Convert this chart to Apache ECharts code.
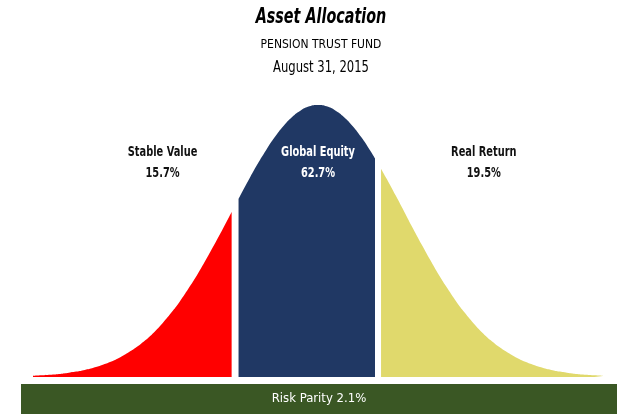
<!DOCTYPE html>
<html>
<head>
<meta charset="utf-8">
<script src="https://cdn.jsdelivr.net/npm/echarts@6/dist/echarts.min.js"></script>
<style>
  html, body { margin: 0; padding: 0; background: #fff; }
  #chart { width: 617px; height: 414px; }
</style>
</head>
<body>
<div id="chart"></div>
<script>
// curve: x in standard deviations, height as % of the peak
var stableX = [-3.3, -3.2, -3.1, -3.0, -2.9, -2.8, -2.7, -2.6, -2.5, -2.4, -2.3, -2.2, -2.1, -2.0, -1.9, -1.8, -1.7, -1.6, -1.5, -1.4, -1.3, -1.2, -1.1, -1.0];
var stableY = [0.4, 0.6, 0.8, 1.1, 1.5, 2.0, 2.6, 3.4, 4.4, 5.6, 7.1, 8.9, 11.0, 13.5, 16.4, 19.8, 23.6, 27.8, 32.5, 37.5, 43.0, 48.7, 54.6, 60.7];
var equityX = [-0.92, -0.8, -0.7, -0.6, -0.5, -0.4, -0.3, -0.2, -0.1, 0, 0.1, 0.2, 0.3, 0.4, 0.5, 0.6, 0.66];
var equityY = [65.5, 72.6, 78.3, 83.5, 88.2, 92.3, 95.6, 98.0, 99.5, 100, 99.5, 98.0, 95.6, 92.3, 88.2, 83.5, 80.4];
var realX = [0.73, 0.8, 0.9, 1.0, 1.1, 1.2, 1.3, 1.4, 1.5, 1.6, 1.7, 1.8, 1.9, 2.0, 2.1, 2.2, 2.3, 2.4, 2.5, 2.6, 2.7, 2.8, 2.9, 3.0, 3.1, 3.2, 3.3];
var realY = [76.6, 72.6, 66.7, 60.7, 54.6, 48.7, 43.0, 37.5, 32.5, 27.8, 23.6, 19.8, 16.4, 13.5, 11.0, 8.9, 7.1, 5.6, 4.4, 3.4, 2.6, 2.0, 1.5, 1.1, 0.8, 0.6, 0.4];

var categories = ['Stable Value', 'Global Equity', 'Real Return'];
var weights = [15.7, 62.7, 19.5];
var labelX = [-1.8, 0.0, 1.92];
var riskParity = 2.1;

var colors = ['#ff0000', '#203864', '#e0d96c'];
var labelColors = ['#111', '#fff', '#111'];
var fontFam = '"DejaVu Sans Condensed", "DejaVu Sans", sans-serif';

function pairs(xs, ys){
    var out = [];
    for (var i = 0; i < xs.length; i++) { out.push([xs[i], ys[i]]); }
    return out;
}

// narrow text (the original uses a condensed face)
function narrowText(x, y, text, font, color, sx){
    return {
        type : 'text',
        x : x,
        y : y,
        z : 100,
        scaleX : sx,
        silent : true,
        style : {
            text : text,
            font : font,
            fill : color,
            textAlign : 'center',
            textVerticalAlign : 'middle'
        }
    };
}

var chartObj = {
    myChart : echarts.init(document.getElementById('chart')),
    option : null,
    init : function(){
        var that = this;
        that.drawChart();
        that.drawLabels();
    },
    drawChart : function(){
        var that = this;
        var curves = [pairs(stableX, stableY), pairs(equityX, equityY), pairs(realX, realY)];
        var series = [];
        categories.forEach(function(name, i){
            series.push({
                name : name,
                type : 'line',
                xAxisIndex : 0,
                yAxisIndex : 0,
                data : curves[i],
                smooth : true,
                symbol : 'none',
                silent : true,
                lineStyle : { width : 0 },
                areaStyle : { color : colors[i], opacity : 1, origin : 'start' }
            });
        });
        series.push({
            name : 'Risk Parity',
            type : 'bar',
            xAxisIndex : 1,
            yAxisIndex : 1,
            data : [riskParity],
            barWidth : '100%',
            silent : true,
            itemStyle : { color : '#3a5724' },
            label : {
                show : true,
                position : 'inside',
                formatter : 'Risk Parity ' + riskParity + '%',
                color : '#fff',
                fontFamily : fontFam,
                fontSize : 13
            }
        });

        that.option = {
            animation : false,
            grid : [
                { left : 33, right : 14, top : 105, bottom : 37 },
                { left : 21, right : 0, top : 384, bottom : 0 }
            ],
            xAxis : [
                { type : 'value', gridIndex : 0, min : -3.3, max : 3.3, show : false },
                { type : 'value', gridIndex : 1, min : 0, max : riskParity, show : false }
            ],
            yAxis : [
                { type : 'value', gridIndex : 0, min : 0, max : 100, show : false },
                { type : 'category', gridIndex : 1, data : ['Risk Parity'], show : false }
            ],
            series : series
        };
        that.myChart.setOption(that.option);
    },
    drawLabels : function(){
        var that = this;
        var items = [
            narrowText(321, 18, 'Asset Allocation', 'italic bold 21px ' + fontFam, '#000', 0.76),
            narrowText(321, 45, 'PENSION TRUST FUND', '12px ' + fontFam, '#000', 1),
            narrowText(321, 68, 'August 31, 2015', '15px ' + fontFam, '#000', 0.86)
        ];
        categories.forEach(function(name, i){
            var p = that.myChart.convertToPixel({ gridIndex : 0 }, [labelX[i], 79]);
            items.push(narrowText(p[0], p[1] - 10, name, 'bold 14px ' + fontFam, labelColors[i], 0.78));
            items.push(narrowText(p[0], p[1] + 11, weights[i].toFixed(1) + '%', 'bold 14px ' + fontFam, labelColors[i], 0.78));
        });
        that.myChart.setOption({ graphic : { elements : items } });
    }
};
chartObj.init();
</script>
</body>
</html>
